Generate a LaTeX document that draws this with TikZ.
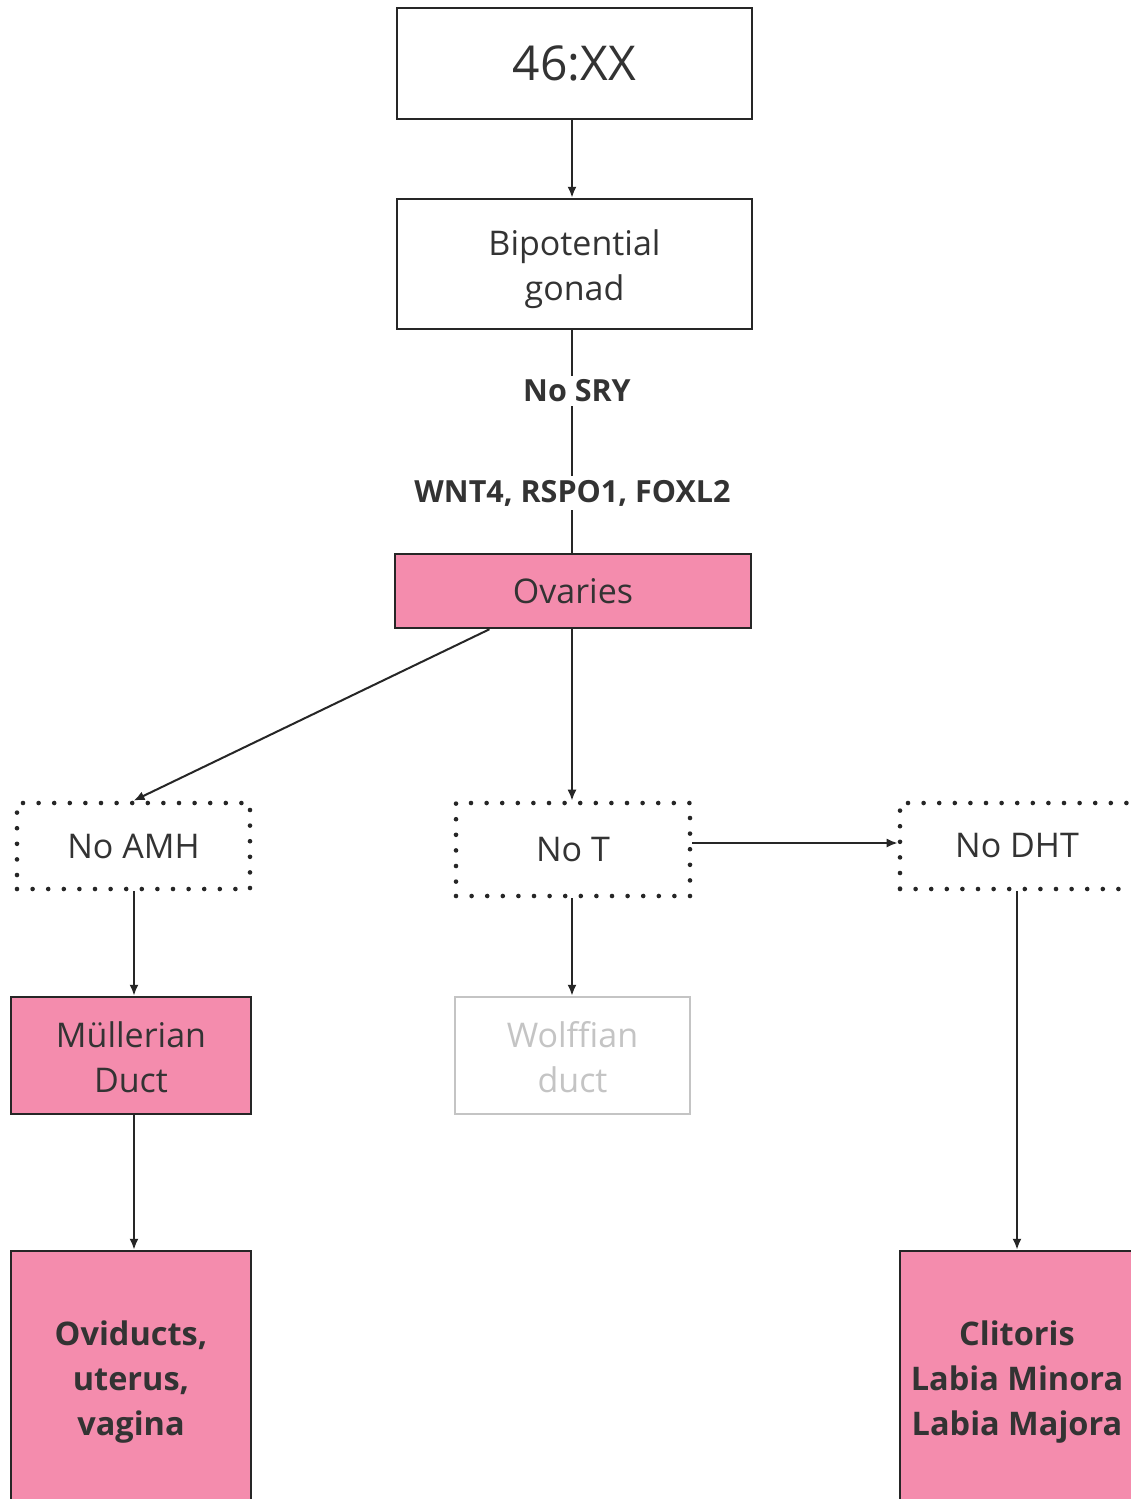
\documentclass[tikz,border=0pt]{standalone}
\usepackage{fontspec}
\setmainfont{Open Sans}
\usetikzlibrary{arrows.meta,calc}

\definecolor{ink}{HTML}{333333}
\definecolor{edge}{HTML}{262626}
\definecolor{rose}{HTML}{F48CAD}
\definecolor{faint}{HTML}{C4C4C4}

\begin{document}
\begin{tikzpicture}[x=1pt,y=-1pt,
  box/.style={draw=edge, line width=2.5pt, text=ink, align=center, inner sep=0pt,
    font=\fontsize{34}{45}\selectfont},
  pinkbox/.style={box, fill=rose},
  greybox/.style={box, draw=faint, text=faint},
  dotbox/.style={draw=edge, line width=4.6pt, line cap=round, dash pattern=on 0pt off 15.6pt,
    text=ink, inner sep=0pt, font=\fontsize{34}{45}\selectfont},
  arr/.style={draw=edge, line width=2pt, -{Latex[length=11pt,width=9pt]}},
  lbl/.style={fill=white, text=ink, font=\bfseries\fontsize{30.5}{34}\selectfont, inner sep=4pt},
  heavy/.style={font=\bfseries\fontsize{32.5}{45}\selectfont},
]
\clip (0,0) rectangle (1131,1499);
\fill[white] (0,0) rectangle (1131,1499);

% top chain
\node[box, minimum width=355pt, minimum height=111pt, font=\fontsize{48}{56}\selectfont]
  (kary) at (574.5,63.5) {46:XX};
\node[box, minimum width=355pt, minimum height=130pt] (gonad) at (574.5,264)
  {\rule{0pt}{35.5pt}Bipotential\\gonad};
\node[pinkbox, minimum width=356pt, minimum height=74pt] (ov) at (573,591) {Ovaries};

\draw[arr] (kary.south -| 572,0) -- (gonad.north -| 572,0);
\draw[draw=edge, line width=2pt] (gonad.south -| 572,0) -- (ov.north -| 572,0);
\node[lbl] (sry) at (577,391) {No SRY};
\node[lbl] (genes) at (572.5,493) {WNT4, RSPO1, FOXL2};

% hormone signals
\node[dotbox, minimum width=233pt, minimum height=86pt] (amh) at (133.5,846) {No AMH};
\node[dotbox, minimum width=234pt, minimum height=93pt] (noT) at (573,849.5) {No T};
\node[dotbox, minimum width=234pt, minimum height=86pt] (dht) at (1017,846) {No DHT};

\draw[arr] ($(ov.south west)!0.267!(ov.south east)$) -- (amh.north);
\draw[arr] (ov.south -| 572,0) -- (noT.north -| 572,0);
\draw[arr] ([yshift=6.5pt]noT.east) -- ([yshift=3pt]dht.west);

% ducts
\node[pinkbox, minimum width=240pt, minimum height=117pt] (mull) at (131,1055.5)
  {\rule{0pt}{30pt}Müllerian\\Duct};
\node[greybox, minimum width=235pt, minimum height=117pt] (wolf) at (572.5,1055.5)
  {\rule{0pt}{30pt}Wolffian\\duct};

\draw[arr] (amh.south -| 134,0) -- (mull.north -| 134,0);
\draw[arr] (noT.south -| 572,0) -- (wolf.north -| 572,0);

% final structures
\node[pinkbox, heavy, minimum width=240pt, minimum height=254pt]
  (ovid) at (131,1378) {\rule{0pt}{33pt}Oviducts,\\uterus,\\vagina};
\node[pinkbox, heavy, minimum width=234pt, minimum height=254pt]
  (ext) at (1017,1378) {\rule{0pt}{33pt}Clitoris\\Labia Minora\\Labia Majora};

\draw[arr] (mull.south -| 134,0) -- (ovid.north -| 134,0);
\draw[arr] (dht.south -| 1017,0) -- (ext.north -| 1017,0);
\end{tikzpicture}
\end{document}
